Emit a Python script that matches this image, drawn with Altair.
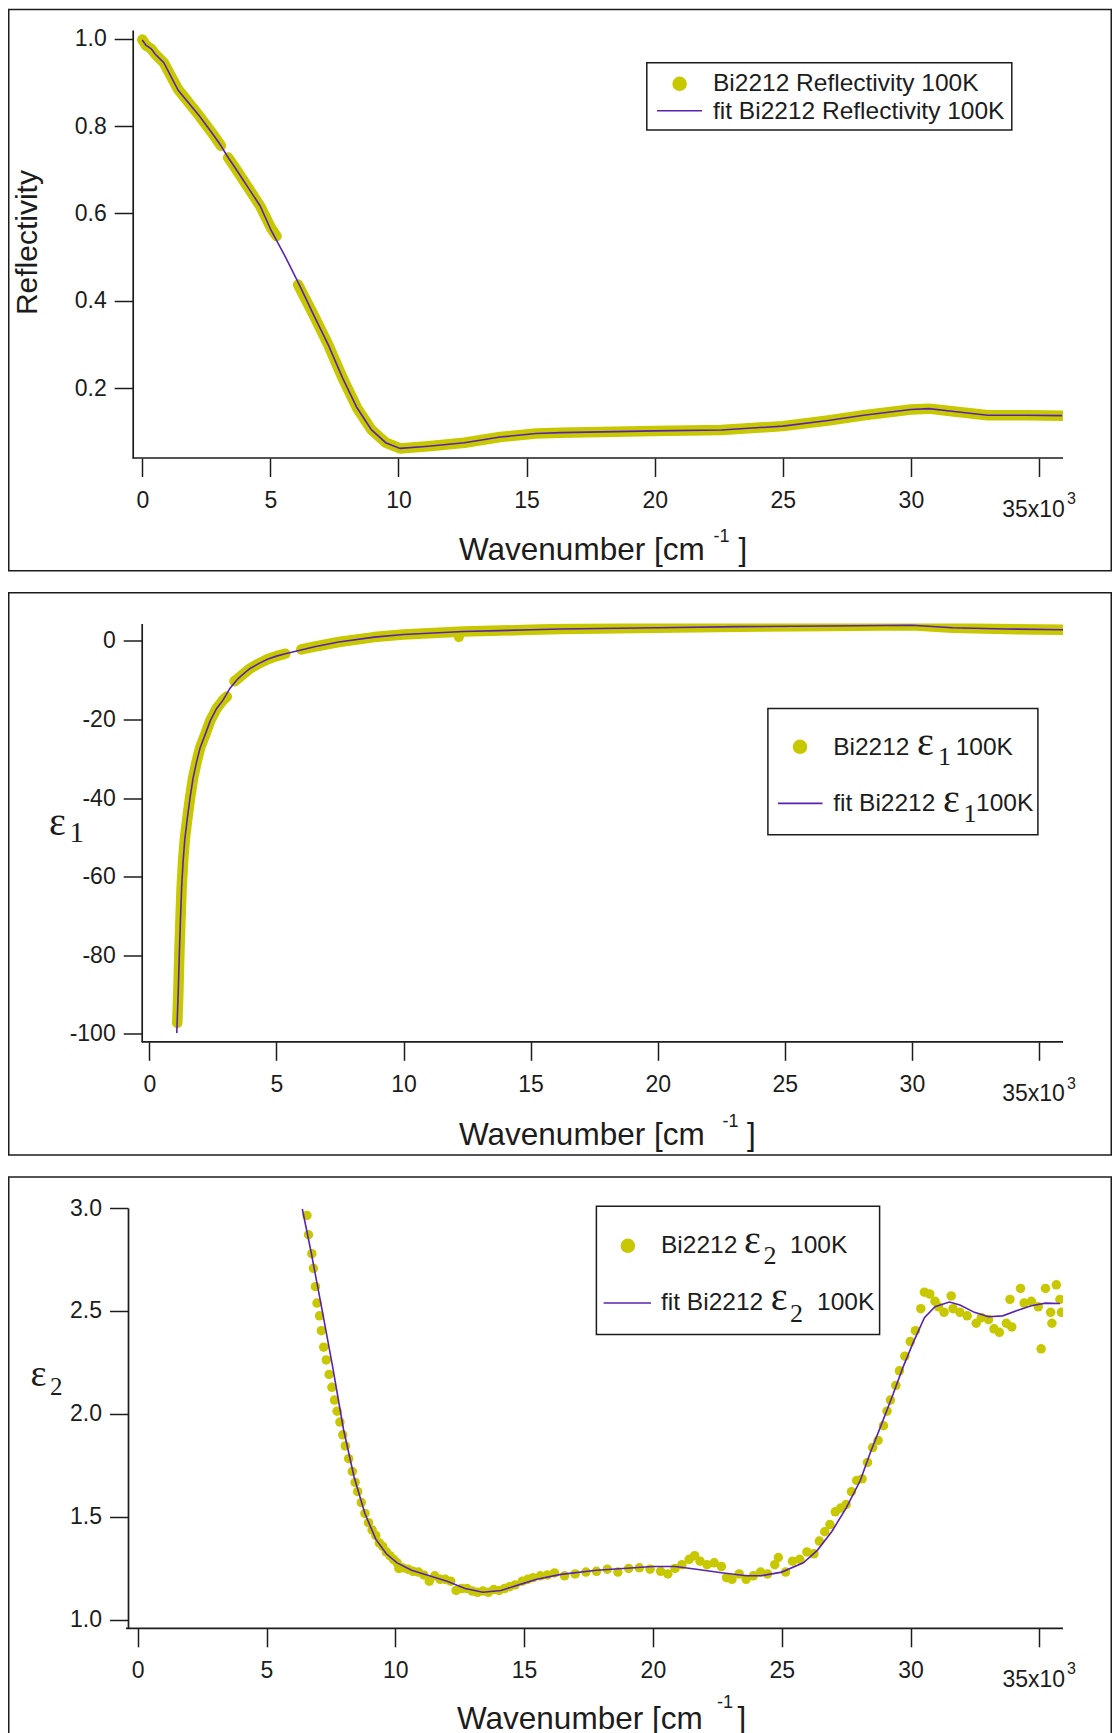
import altair as alt
import pandas as pd

# ---------------- data (x in units of 10^3 cm^-1) ----------------
X_TICKS = [0, 5, 10, 15, 20, 25, 30, 35]

# Panel 1 : reflectivity (measured band, three segments) and fit
R_DATA_X = [0.0, 0.14, 0.35, 0.5, 0.84, 1.4, 2.23, 2.8, 3.07,
            3.35, 3.63, 4.19, 4.6, 5.03, 5.24,
            6.08, 6.7, 7.26, 7.82, 8.38, 8.94, 9.5, 10.06, 11.17, 12.57, 13.97,
            15.36, 16.34, 20.0, 22.6, 25.0, 26.77, 28.16, 30.0, 30.7, 31.6, 33.0, 34.5, 35.9]
R_DATA_Y = [0.998, 0.985, 0.977, 0.965, 0.945, 0.884, 0.823, 0.778, 0.755,
            0.728, 0.704, 0.654, 0.617, 0.566, 0.548,
            0.437, 0.366, 0.299, 0.223, 0.155, 0.105, 0.075, 0.062, 0.067, 0.075, 0.088,
            0.096, 0.098, 0.102, 0.104, 0.113, 0.126, 0.138, 0.151, 0.153, 0.147, 0.138, 0.138, 0.137]
R_DATA_SEG = [1] * 9 + [2] * 6 + [3] * 24

R_FIT_X = [0.0, 0.14, 0.35, 0.5, 0.84, 1.4, 2.23, 2.8, 3.07, 3.35, 3.63, 4.19, 4.6, 5.03,
           5.59, 6.15, 6.7, 7.26, 7.82, 8.38, 8.94, 9.5, 10.06, 11.17, 12.57, 13.97,
           15.36, 16.34, 20.0, 22.6, 25.0, 26.77, 28.16, 30.0, 30.7, 31.6, 33.0, 34.5, 35.9]
R_FIT_Y = [0.997, 0.985, 0.977, 0.965, 0.945, 0.882, 0.823, 0.778, 0.755, 0.728, 0.704, 0.654, 0.617, 0.561,
           0.500, 0.434, 0.366, 0.299, 0.223, 0.155, 0.105, 0.075, 0.062, 0.067, 0.075, 0.088,
           0.096, 0.098, 0.102, 0.104, 0.113, 0.126, 0.138, 0.151, 0.153, 0.147, 0.138, 0.138, 0.137]
R_TICKS = [0.2, 0.4, 0.6, 0.8, 1.0]

# Panel 2 : epsilon_1
E1_DATA_X = [1.10, 1.14, 1.18, 1.22, 1.27, 1.33, 1.40, 1.5, 1.6, 1.72, 1.86, 2.0, 2.19, 2.4, 2.65, 2.9, 3.05,
             3.35, 3.6, 3.95, 4.3, 4.65, 5.0, 5.35,
             5.98, 6.5, 7.45, 8.85, 10.0, 12.35, 15.0, 16.19, 20.0, 23.2, 26.7, 30.0, 31.6, 33.7, 35.95]
E1_DATA_Y = [-97.2, -90.0, -80.0, -72.0, -63.0, -56.0, -50.3, -45.0, -40.1, -35.0, -30.8, -27.2, -24.0, -20.3, -17.2, -15.1, -14.2,
             -10.3, -9.0, -7.1, -5.8, -4.7, -3.9, -3.3,
             -2.2, -1.5, -0.3, 0.94, 1.6, 2.35, 2.8, 3.0, 3.3, 3.6, 3.77, 3.95, 3.3, 3.0, 2.8]
E1_DATA_SEG = [1] * 17 + [2] * 7 + [3] * 15
E1_OUT_X = [12.18]
E1_OUT_Y = [0.94]

E1_FIT_X = [1.08, 1.14, 1.18, 1.22, 1.27, 1.33, 1.40, 1.5, 1.6, 1.72, 1.86, 2.0, 2.19, 2.4, 2.65, 2.9, 3.17,
            3.45, 3.6, 3.95, 4.3, 4.65, 5.0, 5.35, 6.05, 6.5, 7.45, 8.85, 10.0, 12.35, 15.0, 16.19,
            20.0, 23.2, 26.7, 30.0, 31.6, 33.7, 35.95]
E1_FIT_Y = [-99.8, -89.0, -79.9, -72.0, -63.0, -56.0, -50.3, -45.0, -40.1, -35.0, -30.8, -27.2, -24.0, -20.3, -17.2, -15.1, -12.1,
            -9.9, -9.0, -7.1, -5.8, -4.7, -3.9, -3.3, -2.2, -1.5, -0.3, 0.94, 1.6, 2.35, 2.8, 3.0,
            3.3, 3.6, 3.77, 3.95, 3.3, 3.0, 2.8]
E1_TICKS = [0, -20, -40, -60, -80, -100]

# Panel 3 : epsilon_2 (scattered points) and fit
E2_DATA_X = [6.57, 6.63, 6.76, 6.82, 6.90, 6.96, 7.06, 7.13, 7.22, 7.32, 7.43, 7.54, 7.64, 7.74, 7.85, 7.96,
             8.06, 8.19, 8.33, 8.44, 8.54, 8.68, 8.82, 8.96, 9.10, 9.24, 9.38, 9.51, 9.65, 9.79, 9.93,
             10.07, 10.14, 10.28, 10.49, 10.69, 10.9, 11.11, 11.32, 11.53, 11.74, 11.94, 12.15, 12.36,
             12.57, 12.78, 12.99, 13.19, 13.4, 13.61, 13.82, 14.03, 14.24, 14.44, 14.65, 14.93, 15.14,
             15.35, 15.63, 15.9, 16.18,
             16.57, 16.98, 17.4, 17.81, 18.23, 18.64, 19.06, 19.47, 19.89, 20.3, 20.58, 20.86, 21.13,
             21.41, 21.62, 21.83, 22.1, 22.38, 22.66, 22.86, 23.07, 23.35, 23.62, 23.9, 24.18, 24.45,
             24.73, 24.87, 25.15, 25.42, 25.7, 25.98, 26.25, 26.46, 26.67, 26.87, 27.08, 27.29, 27.5,
             27.71, 27.91, 28.12, 28.33, 28.53, 28.74, 28.95, 29.09, 29.22, 29.43, 29.57, 29.78, 29.99,
             30.19, 30.4, 30.54, 30.75, 30.95, 31.09, 31.3, 31.58, 31.65, 31.92, 32.2, 32.55, 32.75,
             33.03, 33.24, 33.45, 33.72, 33.93, 33.86, 34.27, 34.41, 34.69, 34.96, 35.07, 35.24, 35.44,
             35.49, 35.66, 35.8, 35.86]
E2_DATA_Y = [2.964, 2.870, 2.778, 2.707, 2.618, 2.538, 2.476, 2.404, 2.324, 2.262, 2.191, 2.129, 2.067, 2.013, 1.960, 1.898,
             1.844, 1.782, 1.720, 1.667, 1.622, 1.569, 1.516, 1.471, 1.436, 1.409, 1.373, 1.356, 1.329, 1.311, 1.293,
             1.276, 1.249, 1.252, 1.245, 1.235, 1.231, 1.217, 1.187, 1.213, 1.196, 1.196, 1.187, 1.142,
             1.151, 1.151, 1.139, 1.133, 1.139, 1.133, 1.146, 1.142, 1.151, 1.160, 1.169, 1.187, 1.196,
             1.204, 1.213, 1.217, 1.227,
             1.213, 1.222, 1.231, 1.235, 1.245, 1.231, 1.249, 1.252, 1.245, 1.235, 1.222, 1.249, 1.267,
             1.293, 1.311, 1.284, 1.267, 1.276, 1.258, 1.204, 1.196, 1.222, 1.196, 1.213, 1.231, 1.222,
             1.267, 1.302, 1.231, 1.284, 1.293, 1.329, 1.320, 1.382, 1.427, 1.462, 1.524, 1.542, 1.560,
             1.622, 1.676, 1.684, 1.764, 1.836, 1.871, 1.942, 2.013, 2.067, 2.138, 2.209, 2.280, 2.351,
             2.404, 2.511, 2.591, 2.582, 2.547, 2.520, 2.493, 2.573, 2.511, 2.493, 2.476, 2.440, 2.467,
             2.458, 2.413, 2.396, 2.440, 2.422, 2.556, 2.609, 2.538, 2.547, 2.520, 2.316, 2.609, 2.493,
             2.440, 2.627, 2.556, 2.493]

E2_FIT_X = [6.39, 6.74, 7.15, 7.57, 7.99, 8.4, 8.82, 9.24, 9.65, 10.07, 10.63, 11.32, 12.01, 12.71,
            13.4, 14.1, 14.79, 15.49, 16.43, 17.81, 20.0, 20.86, 21.69, 22.66, 23.62, 24.18, 25.0,
            25.84, 26.39, 26.94, 27.5, 28.05, 28.46, 28.88, 29.29, 29.71, 30.12, 30.54, 30.95, 31.51,
            31.92, 32.48, 33.03, 33.58, 34.14, 34.69, 35.24, 35.8]
E2_FIT_Y = [2.995, 2.78, 2.51, 2.227, 1.924, 1.693, 1.516, 1.391, 1.32, 1.276, 1.24, 1.213, 1.187, 1.151,
            1.133, 1.142, 1.169, 1.196, 1.22, 1.24, 1.258, 1.258, 1.245, 1.228, 1.213, 1.213, 1.231,
            1.276, 1.338, 1.427, 1.542, 1.676, 1.818, 1.951, 2.084, 2.227, 2.351, 2.467, 2.52, 2.543,
            2.529, 2.493, 2.472, 2.476, 2.502, 2.525, 2.538, 2.536]
E2_TICKS = [1.0, 1.5, 2.0, 2.5, 3.0]

# ---------------- styling ----------------
SANS = "Liberation Sans"
SERIF = "Liberation Serif"
INK = "#1c1c1c"
DATA_COLOR = "#c8c800"
FIT_COLOR = "#5a22b0"
W = 935
ONE = alt.Data(values=[{"k": 0}])


def txt(t, x, y, size, font=SANS, align="left", angle=0):
    return alt.Chart(ONE).mark_text(text=t, align=align, baseline="alphabetic", font=font,
                                    fontSize=size, color=INK, angle=angle).encode(
        x=alt.value(x), y=alt.value(y))


def box(x1, x2, y1, y2, sw):
    return alt.Chart(ONE).mark_rect(fillOpacity=0, stroke=INK, strokeWidth=sw).encode(
        x=alt.value(x1), x2=alt.value(x2), y=alt.value(y1), y2=alt.value(y2))


def hline(x1, x2, y, color, sw):
    return alt.Chart(ONE).mark_rule(color=color, strokeWidth=sw).encode(
        x=alt.value(x1), x2=alt.value(x2), y=alt.value(y))


def legend_dot(x, y):
    return alt.Chart(ONE).mark_circle(size=210, color=DATA_COLOR, opacity=1).encode(
        x=alt.value(x), y=alt.value(y))


def x_enc(domain):
    return alt.X("x:Q", scale=alt.Scale(domain=domain, nice=False, zero=False),
                 axis=alt.Axis(values=X_TICKS, title=None, domain=False, grid=False,
                               labelExpr="datum.value == 35 ? '35x10' : datum.label",
                               tickSize=18.5, tickWidth=1.5, tickColor=INK,
                               labelFont=SANS, labelFontSize=23, labelColor=INK,
                               labelFlush=False, labelOverlap=False,
                               labelOffset={"condition": {"test": "datum.value == 35", "value": -6},
                                            "value": 0},
                               labelPadding={"condition": {"test": "datum.value == 35", "value": 22},
                                             "value": 13}))


def y_enc(domain, ticks, offset, fmt=None, expr=None):
    kw = dict(values=ticks, title=None, offset=offset, grid=False, domain=True,
              domainColor=INK, domainWidth=1.7, tickSize=18.5, tickWidth=1.5, tickColor=INK,
              labelFont=SANS, labelFontSize=23, labelColor=INK, labelPadding=8,
              labelFlush=False, labelOverlap=False)
    if fmt:
        kw["format"] = fmt
    if expr:
        kw["labelExpr"] = expr
    return alt.Y("y:Q", scale=alt.Scale(domain=domain, nice=False, zero=False), axis=alt.Axis(**kw))


def wavenumber_title(x, y, sup_x, sup_y, br_x):
    return [txt("Wavenumber [cm", x, y, 31.5), txt("-1", sup_x, sup_y, 18), txt("]", br_x, y, 31.5)]


def exponent(y):
    return txt("3", 939, y, 16)


# ---------------- panel 1 ----------------
H1 = 428
xd1 = [-0.558, 35.937]
yd1 = [0.04, 1.02]
r_data = pd.DataFrame({"x": R_DATA_X, "y": R_DATA_Y, "seg": R_DATA_SEG})
r_fit = pd.DataFrame({"x": R_FIT_X, "y": R_FIT_Y})
xe1, ye1 = x_enc(xd1), y_enc(yd1, R_TICKS, -4.7, fmt=".1f")
p1_layers = [
    box(-119.25, 983.25, -20.55, 540.7, 1.5),
    alt.Chart(r_data).mark_line(color=DATA_COLOR, strokeWidth=10.5, strokeCap="round",
                                strokeJoin="round", clip=True).encode(x=xe1, y=ye1, detail="seg:N"),
    alt.Chart(r_fit).mark_line(color=FIT_COLOR, strokeWidth=1.6, clip=True).encode(x=xe1, y=ye1),
    hline(4.7, W, H1, INK, 1.7),
    box(518.8, 883.8, 32.7, 99.9, 1.5),
    legend_dot(551.6, 53.8),
    txt("Bi2212 Reflectivity 100K", 585, 61.2, 24.5),
    hline(529, 574, 80.7, FIT_COLOR, 1.6),
    txt("fit Bi2212 Reflectivity 100K", 585, 88.9, 24.5),
    txt("Reflectivity", -91, 212.6, 30, align="center", angle=270),
    exponent(474),
] + wavenumber_title(331, 530.2, 585.6, 511.7, 610.6)
p1 = alt.layer(*p1_layers).properties(width=W, height=H1)

# ---------------- panel 2 ----------------
H2 = 418.3
xd2 = [-0.838, 35.944]
yd2 = [-102, 4.4]
e1_data = pd.DataFrame({"x": E1_DATA_X, "y": E1_DATA_Y, "seg": E1_DATA_SEG})
e1_out = pd.DataFrame({"x": E1_OUT_X, "y": E1_OUT_Y})
e1_fit = pd.DataFrame({"x": E1_FIT_X, "y": E1_FIT_Y})
xe2, ye2 = x_enc(xd2), y_enc(yd2, E1_TICKS, -13.7, expr="'' + datum.value")
p2_layers = [
    box(-119.25, 983.25, -30.7, 531.6, 1.5),
    alt.Chart(e1_data).mark_line(color=DATA_COLOR, strokeWidth=10.5, strokeCap="round",
                                 strokeJoin="round", clip=True).encode(x=xe2, y=ye2, detail="seg:N"),
    alt.Chart(e1_out).mark_circle(color=DATA_COLOR, size=100, opacity=1).encode(x=xe2, y=ye2),
    alt.Chart(e1_fit).mark_line(color=FIT_COLOR, strokeWidth=1.6, clip=True).encode(x=xe2, y=ye2),
    hline(13.7, W, H2, INK, 1.7),
    box(639.9, 909.9, 85, 211.3, 1.5),
    legend_dot(672, 123.3),
    txt("Bi2212", 705.2, 131.1, 24.5),
    txt("\u03b5", 789, 131.9, 40, font=SERIF),
    txt("1", 810, 141.1, 26, font=SERIF),
    txt("100K", 827.7, 131.1, 24.5),
    hline(649.9, 694.5, 179.9, FIT_COLOR, 1.6),
    txt("fit Bi2212", 705.2, 187.3, 24.5),
    txt("\u03b5", 814.9, 188, 40, font=SERIF),
    txt("1", 835.6, 198.3, 26, font=SERIF),
    txt("100K", 848, 187.3, 24.5),
    txt("\u03b5", -79, 211.3, 40, font=SERIF),
    txt("1", -58.4, 218.6, 29, font=SERIF),
    exponent(465),
] + wavenumber_title(331, 521.3, 594.5, 503, 619)
p2 = alt.layer(*p2_layers).properties(width=W, height=H2)

# ---------------- panel 3 ----------------
H3 = 420.3
xd3 = [-0.377, 35.92]
yd3 = [0.958, 3.0]
e2_data = pd.DataFrame({"x": E2_DATA_X, "y": E2_DATA_Y})
e2_fit = pd.DataFrame({"x": E2_FIT_X, "y": E2_FIT_Y})
xe3, ye3 = x_enc(xd3), y_enc(yd3, E2_TICKS, 0, fmt=".1f")
p3_layers = [
    box(-119.25, 983.25, -31, 540, 1.5),
    alt.Chart(e2_data).mark_circle(color=DATA_COLOR, size=90, opacity=1, clip=True).encode(x=xe3, y=ye3),
    alt.Chart(e2_fit).mark_line(color=FIT_COLOR, strokeWidth=1.6, clip=True).encode(x=xe3, y=ye3),
    hline(-2, W, H3, INK, 1.7),
    box(468.4, 751.6, -1.7, 126.4, 1.5),
    legend_dot(499.9, 37.8),
    txt("Bi2212", 533, 45.2, 24.5),
    txt("\u03b5", 616, 45.2, 40, font=SERIF),
    txt("2", 635.6, 55.7, 26, font=SERIF),
    txt("100K", 662, 45.2, 24.5),
    hline(475.6, 523, 95, FIT_COLOR, 1.6),
    txt("fit Bi2212", 533, 102.4, 24.5),
    txt("\u03b5", 642.7, 102.4, 40, font=SERIF),
    txt("2", 662, 113.5, 26, font=SERIF),
    txt("100K", 689, 102.4, 24.5),
    txt("\u03b5", -97.5, 178.1, 38, font=SERIF),
    txt("2", -78, 187.3, 25, font=SERIF),
    exponent(466.3),
] + wavenumber_title(329, 520.7, 589, 499.7, 609.5)
p3 = alt.layer(*p3_layers).properties(width=W, height=H3)

chart = alt.vconcat(p1, p2, p3, spacing=19.5).properties(padding=0).configure_view(stroke=None)

chart.save("out.html", embed_options={"renderer": "svg", "actions": False})
